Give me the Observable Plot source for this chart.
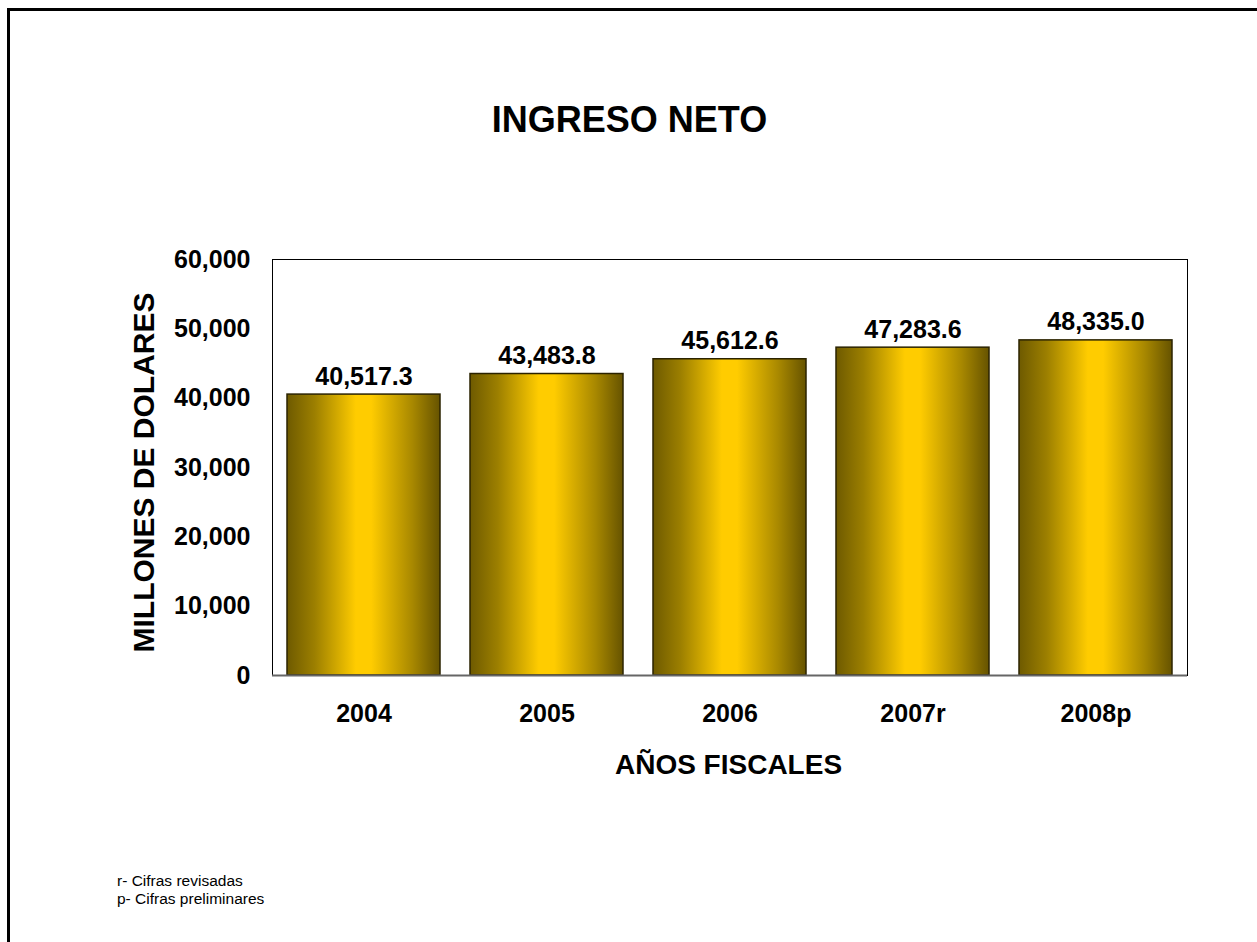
<!DOCTYPE html>
<html>
<head>
<meta charset="utf-8">
<script src="https://cdn.jsdelivr.net/npm/d3@7"></script>
<script src="https://cdn.jsdelivr.net/npm/@observablehq/plot@0.6"></script>
<style>
  html, body { margin: 0; padding: 0; background: #fff; }
  #page { position: relative; width: 1257px; height: 942px; overflow: hidden; background: #fff;
          font-family: "Liberation Sans", Arial, sans-serif; }
  #border { position: absolute; left: 7px; top: 8px; width: 1400px; height: 1100px;
            border-left: 3px solid #000; border-top: 3px solid #000; }
  #title { position: absolute; left: 0; width: 1257px; top: 102px; text-align: center;
           font-size: 36px; line-height: 36px; font-weight: bold; color: #000; }
  #title span { position: relative; left: 1px; }
  #chart { position: absolute; left: 0; top: 200px; }
  #chart svg { overflow: visible; }
  #notes { position: absolute; left: 117px; top: 872px; font-size: 15.5px; line-height: 18px; color: #000; }
</style>
</head>
<body>
<div id="page">
  <div id="border"></div>
  <div id="title"><span>INGRESO NETO</span></div>
  <div id="chart"></div>
  <div id="notes"><div>r- Cifras revisadas</div><div>p- Cifras preliminares</div></div>
</div>
<script>
const years = ["2004", "2005", "2006", "2007r", "2008p"];
const values = [40517.3, 43483.8, 45612.6, 47283.6, 48335.0];
const yTicks = [0, 10000, 20000, 30000, 40000, 50000, 60000];
const yLabel = "MILLONES DE DOLARES";
const xLabel = "AÑOS FISCALES";

const data = years.map((year, i) => ({year, value: values[i]}));
const fontFamily = "'Liberation Sans', Arial, sans-serif";

const chart = Plot.plot({
  width: 1257,
  height: 600,
  marginLeft: 272,
  marginRight: 70,
  marginTop: 59,
  marginBottom: 125,
  style: {fontFamily, fontSize: "25px", fontWeight: "bold", color: "#000", background: "transparent", overflow: "visible"},
  x: {domain: years, paddingInner: 0.164, paddingOuter: 0.082},
  y: {domain: [0, 60000]},
  marks: [
    Plot.barY(data, {x: "year", y: "value", fill: "url(#goldGrad)", stroke: "#2b2300", strokeWidth: 1.5}),
    Plot.frame({stroke: "#000", strokeWidth: 1}),
    Plot.ruleY([0], {stroke: "#666", strokeWidth: 2}),
    Plot.axisY({ticks: yTicks, tickSize: 0, tickPadding: 22, tickFormat: d3.format(","), label: null,
                fontSize: 25, fontWeight: "bold", fill: "#000"}),
    Plot.axisX({tickSize: 0, tickPadding: 29, label: null, fontSize: 25, fontWeight: "bold", fill: "#000"}),
    Plot.text(data, {x: "year", y: "value", text: d => d3.format(",.1f")(d.value), dy: -10,
                     lineAnchor: "bottom", fontSize: 25, fontWeight: "bold", fill: "#000"}),
    Plot.text([yLabel], {frameAnchor: "left", textAnchor: "middle", rotate: -90, dx: -128.5, dy: 5, text: d => d,
                         fontSize: 30, fontWeight: "bold", fill: "#000"}),
    Plot.text([xLabel], {frameAnchor: "bottom", textAnchor: "middle", dx: -1.5, dy: 98, lineAnchor: "bottom", text: d => d,
                         fontSize: 28, fontWeight: "bold", fill: "#000"})
  ]
});

// gradient definition for the bars
const ns = "http://www.w3.org/2000/svg";
const defs = document.createElementNS(ns, "defs");
const grad = document.createElementNS(ns, "linearGradient");
grad.setAttribute("id", "goldGrad");
grad.setAttribute("x1", "0"); grad.setAttribute("x2", "1");
grad.setAttribute("y1", "0"); grad.setAttribute("y2", "0");
[[0, "#6e5a00"], [0.18, "#9c7f00"], [0.45, "#ffcc00"], [0.55, "#ffcc00"], [0.82, "#a88800"], [1, "#665300"]]
  .forEach(([o, c]) => {
    const s = document.createElementNS(ns, "stop");
    s.setAttribute("offset", o);
    s.setAttribute("stop-color", c);
    grad.appendChild(s);
  });
defs.appendChild(grad);
chart.insertBefore(defs, chart.firstChild);

document.getElementById("chart").appendChild(chart);
</script>
</body>
</html>
